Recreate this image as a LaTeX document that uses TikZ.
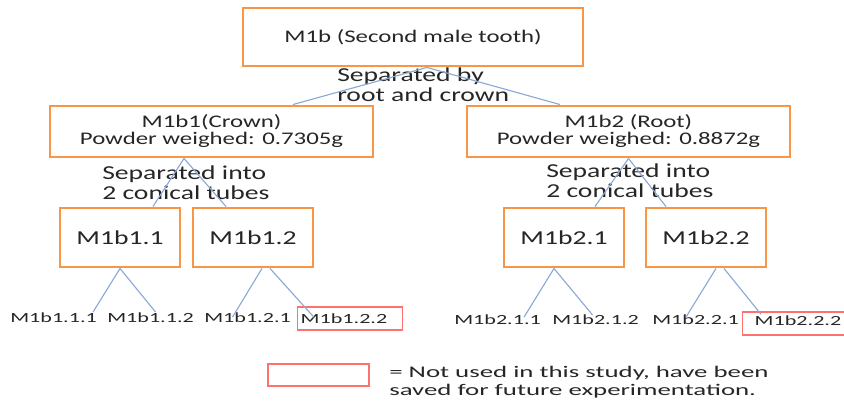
\documentclass[tikz,border=0pt]{standalone}
\usepackage{fontspec}
\usetikzlibrary{calc}
\setmainfont{Carlito}
\newfontfamily\boxfont[FakeStretch=1.4]{Carlito}
\newfontfamily\leaffont[FakeStretch=1.58]{Carlito}
\newfontfamily\keyfont[FakeStretch=1.65]{Carlito}
\definecolor{boxorange}{HTML}{F79646}
\definecolor{linkblue}{HTML}{8CA9D6}
\definecolor{unusedred}{HTML}{FF7070}
\definecolor{textgray}{HTML}{262626}
\tikzset{samplebox/.style={draw=boxorange,line width=2.2pt,fill=white,align=center,inner sep=0pt,text=textgray},big/.style={font=\boxfont\fontsize{13.3}{12.75}\selectfont},mid/.style={font=\boxfont\fontsize{14.8}{15}\selectfont},link/.style={draw=linkblue,line width=.85pt},leaf/.style={inner sep=0pt,text=textgray,font=\leaffont\fontsize{10.5}{11}\selectfont},unused/.style={draw=unusedred,line width=1.1pt},note/.style={inner sep=0pt,align=left,text=textgray}}

\begin{document}
\begin{tikzpicture}[x=.75pt,y=-.75pt]
\useasboundingbox (0,0) rectangle (844,402);

\node[samplebox,big,minimum width=255pt,minimum height=43.5pt] (tooth) at (413,37) {M1b (Second male tooth)};
\node[note,mid,anchor=north west] (splitroot) at (337,68) {Separated by\\root and crown};
\node[samplebox,big,minimum width=242.25pt,minimum height=38.25pt] (crown) at (211.5,131.5) {M1b1(Crown)\\Powder weighed: 0.7305g};
\node[samplebox,big,minimum width=242.25pt,minimum height=38.25pt] (root) at (628.5,131.5) {M1b2 (Root)\\Powder weighed: 0.8872g};
\draw[link] ($(tooth.south)+(14,0)$)--($(crown.north)+(81.5,0)$);
\draw[link] ($(tooth.south)+(14,0)$)--($(root.north)+(-68.5,0)$);

\node[note,mid,anchor=north west] (splitcrown) at (102,166) {Separated into\\2 conical tubes};
\node[note,mid,anchor=north west] (splitroottubes) at (546,164) {Separated into\\2 conical tubes};
\node[samplebox,mid,minimum width=90pt,minimum height=44.25pt] (b11) at (120,237.5) {M1b1.1};
\node[samplebox,mid,minimum width=90pt,minimum height=44.25pt] (b12) at (253,237.5) {M1b1.2};
\node[samplebox,mid,minimum width=90pt,minimum height=44.25pt] (b21) at (564,237.5) {M1b2.1};
\node[samplebox,mid,minimum width=90pt,minimum height=44.25pt] (b22) at (706,237.5) {M1b2.2};
\draw[link] ($(crown.south)+(-27.5,0)$)--($(b11.north)+(33,0)$);
\draw[link] ($(crown.south)+(-27.5,0)$)--($(b12.north)+(-27,0)$);
\draw[link] (root.south)--($(b21.north)+(31,0)$);
\draw[link] (root.south)--($(b22.north)+(-40,0)$);

\node[leaf,anchor=base west] (l111) at (10,323) {M1b1.1.1};
\node[leaf,anchor=base west] (l112) at (107,323) {M1b1.1.2};
\node[leaf,anchor=base west] (l121) at (204,323) {M1b1.2.1};
\node[leaf,unused,anchor=west,minimum width=78.75pt,minimum height=17.25pt,text width=74.25pt,align=left,inner xsep=2.25pt] (l122) at (297,318.5) {M1b1.2.2};
\node[leaf,anchor=base west] (l211) at (454,325) {M1b2.1.1};
\node[leaf,anchor=base west] (l212) at (552,325) {M1b2.1.2};
\node[leaf,anchor=base west] (l221) at (652,325) {M1b2.2.1};
\node[leaf,unused,anchor=west,minimum width=78.75pt,minimum height=17.25pt,text width=60.75pt,text depth=5pt,align=left,inner xsep=9pt] (l222) at (742,323.5) {M1b2.2.2};
\draw[link] (b11.south)--($(l111.north east)+(-4,-1)$);
\draw[link] (b11.south)--($(l112.north)+(5,-1)$);
\draw[link] ($(b12.south)+(9,0)$)--($(l121.north)+(-15,4)$);
\draw[link] ($(b12.south)+(17,0)$)--($(l122.north west)+(17,11)$);
\draw[link] ($(b21.south)+(-10,0)$)--($(l211.north east)+(-17,2)$);
\draw[link] ($(b21.south)+(-10,0)$)--($(l212.north)+(-3,0)$);
\draw[link] ($(b22.south)+(10,0)$)--($(l221.north)+(-9.5,2)$);
\draw[link] ($(b22.south)+(18,0)$)--($(l222.north west)+(19,3)$);

\node[unused,minimum width=75.75pt,minimum height=16.5pt,inner sep=0pt] (key) at (318.5,375) {};
\node[note,font=\keyfont\fontsize{12.2}{13.5}\selectfont,anchor=north west] (keytext) at (389,366) {= Not used in this study, have been\\saved for future experimentation.};
\end{tikzpicture}
\end{document}
